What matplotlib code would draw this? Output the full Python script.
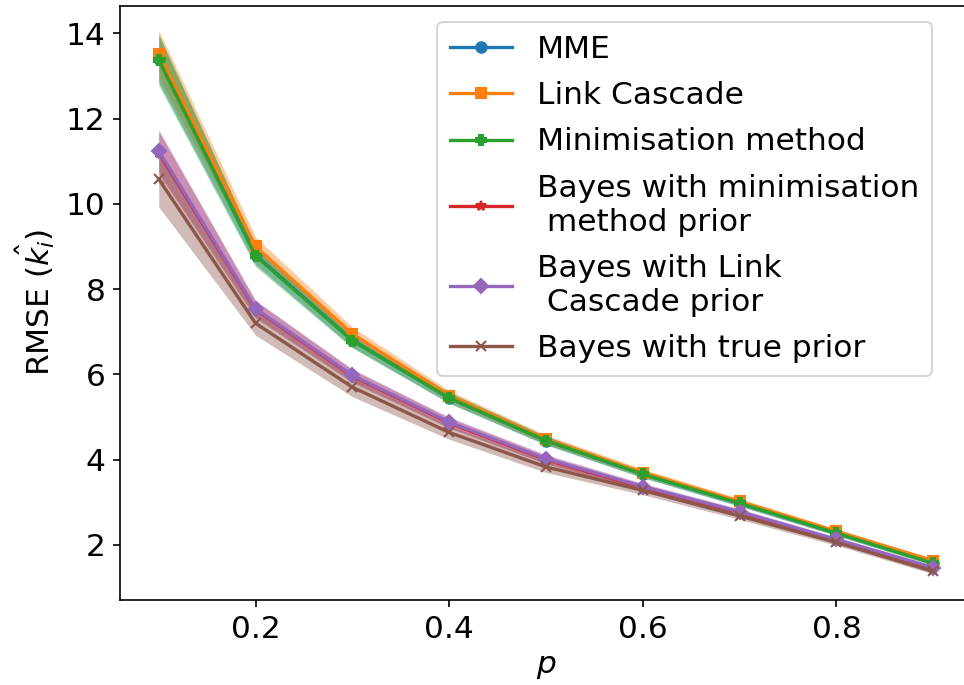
import matplotlib
matplotlib.use("Agg")
import matplotlib.pyplot as plt
import numpy as np

p = [0.1, 0.2, 0.3, 0.4, 0.5, 0.6, 0.7, 0.8, 0.9]

labels = ["MME", "Link Cascade", "Minimisation method",
          "Bayes with minimisation\n method prior",
          "Bayes with Link\n Cascade prior",
          "Bayes with true prior"]
markers = ["o", "s", "P", "*", "D", "x"]

mme = [13.40, 8.80, 6.80, 5.45, 4.45, 3.66, 2.98, 2.28, 1.58]
link_cascade = [13.52, 9.00, 6.95, 5.50, 4.48, 3.70, 3.02, 2.32, 1.63]
minimisation = [13.38, 8.78, 6.79, 5.45, 4.45, 3.66, 2.98, 2.28, 1.57]
bayes_min = [11.20, 7.52, 5.96, 4.86, 4.00, 3.35, 2.76, 2.11, 1.45]
bayes_link = [11.24, 7.54, 5.98, 4.88, 4.02, 3.37, 2.78, 2.13, 1.47]
bayes_true = [10.58, 7.20, 5.70, 4.64, 3.83, 3.28, 2.68, 2.06, 1.38]

std_mme = [0.55, 0.22, 0.16, 0.12, 0.10, 0.08, 0.07, 0.06, 0.05]
std_link = [0.55, 0.22, 0.16, 0.12, 0.10, 0.08, 0.07, 0.06, 0.05]
std_min = [0.60, 0.25, 0.17, 0.13, 0.10, 0.08, 0.07, 0.06, 0.05]
std_bmin = [0.50, 0.20, 0.15, 0.12, 0.10, 0.08, 0.07, 0.06, 0.05]
std_blink = [0.50, 0.20, 0.15, 0.12, 0.10, 0.08, 0.07, 0.06, 0.05]
std_btrue = [0.65, 0.28, 0.22, 0.16, 0.13, 0.10, 0.08, 0.07, 0.06]

series = [mme, link_cascade, minimisation, bayes_min, bayes_link, bayes_true]
stds = [std_mme, std_link, std_min, std_bmin, std_blink, std_btrue]

plt.rcParams['font.family'] = ['DejaVu Sans']
plt.rcParams['font.size'] = 15

fig = plt.figure(figsize=(964/150, 685/150), dpi=150)
W, H = 964, 685
ax = fig.add_axes([120/W, 1-600/H, (972-120)/W, (600-6)/H])

for i, (ys, sd, lab, mk) in enumerate(zip(series, stds, labels, markers)):
    c = f"C{i}"
    ys = np.array(ys); sd = np.array(sd)
    ax.plot(p, ys, marker=mk, color=c, label=lab, lw=1.6, ms=5)
    ax.fill_between(p, ys - sd, ys + sd, color=c, alpha=0.4, lw=0)

ax.set_xlim(0.06, 0.94)
ax.set_ylim(0.71, 14.64)
ax.set_xticks([0.2, 0.4, 0.6, 0.8])
ax.set_yticks([2, 4, 6, 8, 10, 12, 14])
ax.set_xlabel("$p$")
ax.set_ylabel(r"RMSE ($\hat{k_i}$)")

ax.legend(loc="upper right", bbox_to_anchor=(932/W, 1-22/H),
          bbox_transform=fig.transFigure, borderaxespad=0, fontsize=15,
          labelspacing=0.56)

fig.savefig("out.png", dpi=150)
